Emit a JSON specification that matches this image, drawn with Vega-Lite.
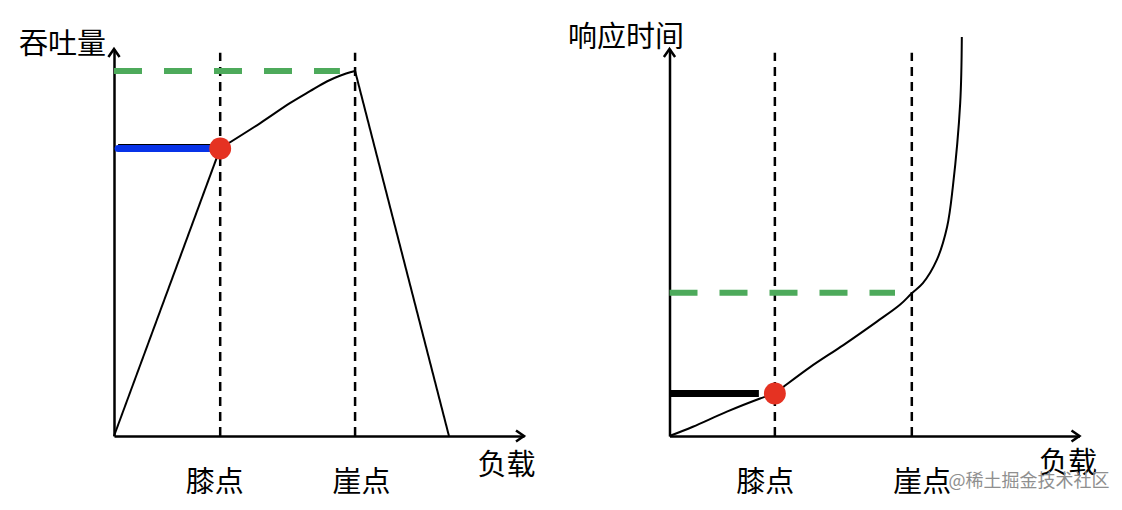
{
  "$schema": "https://vega.github.io/schema/vega-lite/v6.json",
  "background": "white",
  "padding": {"left": 18, "top": 23, "right": 8, "bottom": 8},
  "spacing": 145.5,
  "bounds": "flush",
  "config": {
    "view": {"stroke": null},
    "font": "Noto Sans CJK SC",
    "axis": {
      "grid": false,
      "ticks": false,
      "domainColor": "black",
      "domainWidth": 2.5,
      "labelFont": "Noto Sans CJK SC",
      "labelFontSize": 29,
      "labelColor": "black",
      "titleFont": "Noto Sans CJK SC",
      "titleFontSize": 29,
      "titleFontWeight": "normal",
      "titleColor": "black",
      "titleAngle": 0,
      "titleAlign": "center",
      "titleBaseline": "middle"
    },
    "axisX": {"labelBaseline": "middle", "labelAlign": "center", "labelPadding": 46},
    "axisY": {"labels": false}
  },
  "hconcat": [
    {
      "width": 410,
      "height": 387,
      "layer": [
        {
          "data": {"values": [
            {"point": "膝点", "load": 25.9, "bottom": 0, "top": 99},
            {"point": "崖点", "load": 58.8, "bottom": 0, "top": 99}
          ]},
          "mark": {"type": "rule", "color": "black", "strokeWidth": 2.5, "strokeDash": [9, 6]},
          "encoding": {
            "x": {
              "field": "load", "type": "quantitative",
              "scale": {"domain": [0, 100], "nice": false},
              "axis": {
                "values": [25.9, 58.8],
                "labelExpr": "datum.value < 40 ? '膝点' : '崖点'",
                "labelOffset": {"condition": {"test": "datum.value < 40", "value": -6}, "value": 6},
                "title": "负载", "titleX": 392, "titleY": 29
              }
            },
            "y": {
              "field": "bottom", "type": "quantitative",
              "scale": {"domain": [0, 100], "nice": false},
              "axis": {"title": "吞吐量", "titleX": -52, "titleY": -4.5}
            },
            "y2": {"field": "top"}
          }
        },
        {
          "data": {"values": [{"line": "最大吞吐量", "from": 0, "to": 55.1, "level": 94.3}]},
          "mark": {"type": "rule", "color": "#4daa5b", "strokeWidth": 6, "strokeDash": [28, 22]},
          "encoding": {
            "x": {"field": "from", "type": "quantitative"},
            "x2": {"field": "to"},
            "y": {"field": "level", "type": "quantitative"}
          }
        },
        {
          "data": {"values": [{"line": "膝点吞吐量", "from": 1, "to": 25, "level": 75.2}]},
          "mark": {"type": "rule", "color": "black", "strokeWidth": 2},
          "encoding": {
            "x": {"field": "from", "type": "quantitative"},
            "x2": {"field": "to"},
            "y": {"field": "level", "type": "quantitative"}
          }
        },
        {
          "data": {"values": [{"line": "膝点吞吐量", "from": 1, "to": 25.6, "level": 74.3}]},
          "mark": {"type": "rule", "color": "#0833e8", "strokeWidth": 7, "strokeCap": "round"},
          "encoding": {
            "x": {"field": "from", "type": "quantitative"},
            "x2": {"field": "to"},
            "y": {"field": "level", "type": "quantitative"}
          }
        },
        {
          "data": {"values": [
            {"segment": "rise", "load": 0, "throughput": 0},
            {"segment": "rise", "load": 25.9, "throughput": 74.3},
            {"segment": "bend", "load": 25.9, "throughput": 74.3},
            {"segment": "bend", "load": 35.6, "throughput": 80.8},
            {"segment": "bend", "load": 42.9, "throughput": 86.0},
            {"segment": "bend", "load": 47.8, "throughput": 89.1},
            {"segment": "bend", "load": 51.9, "throughput": 91.6},
            {"segment": "bend", "load": 55.1, "throughput": 93.1},
            {"segment": "bend", "load": 58.8, "throughput": 94.3},
            {"segment": "fall", "load": 58.8, "throughput": 94.3},
            {"segment": "fall", "load": 81.7, "throughput": 0}
          ]},
          "mark": {"type": "line", "color": "black", "strokeWidth": 2, "interpolate": "catmull-rom"},
          "encoding": {
            "x": {"field": "load", "type": "quantitative"},
            "y": {"field": "throughput", "type": "quantitative"},
            "detail": {"field": "segment", "type": "nominal"}
          }
        },
        {
          "data": {"values": [{"point": "膝点", "load": 25.9, "throughput": 74.3}]},
          "mark": {"type": "point", "filled": true, "size": 480, "color": "#e53222", "opacity": 1},
          "encoding": {
            "x": {"field": "load", "type": "quantitative"},
            "y": {"field": "throughput", "type": "quantitative"}
          }
        },
        {
          "data": {"values": [
            {"dir": "right", "load": 100, "level": 0},
            {"dir": "up", "load": 0, "level": 100}
          ]},
          "mark": {"type": "point", "filled": false, "size": 256, "strokeWidth": 2.5, "color": "black", "opacity": 1},
          "encoding": {
            "x": {"field": "load", "type": "quantitative"},
            "y": {"field": "level", "type": "quantitative"},
            "shape": {
              "field": "dir", "type": "nominal", "legend": null,
              "scale": {"domain": ["right", "up"], "range": ["M-1,-0.7L0,0L-1,0.7", "M-0.7,1L0,0L0.7,1"]}
            }
          }
        }
      ]
    },
    {
      "width": 410,
      "height": 387,
      "layer": [
        {
          "data": {"values": [
            {"point": "膝点", "load": 25.7, "bottom": 0, "top": 99},
            {"point": "崖点", "load": 59.1, "bottom": 0, "top": 99}
          ]},
          "mark": {"type": "rule", "color": "black", "strokeWidth": 2.5, "strokeDash": [9, 6]},
          "encoding": {
            "x": {
              "field": "load", "type": "quantitative",
              "scale": {"domain": [0, 100], "nice": false},
              "axis": {
                "values": [25.7, 59.1],
                "labelExpr": "datum.value < 40 ? '膝点' : '崖点'",
                "labelOffset": {"condition": {"test": "datum.value < 40", "value": -10}, "value": 10},
                "title": "负载", "titleX": 398, "titleY": 27.5
              }
            },
            "y": {
              "field": "bottom", "type": "quantitative",
              "scale": {"domain": [0, 100], "nice": false},
              "axis": {"title": "响应时间", "titleX": -44, "titleY": -11.5}
            },
            "y2": {"field": "top"}
          }
        },
        {
          "data": {"values": [{"line": "崖点响应时间", "from": 0, "to": 55, "level": 37.0}]},
          "mark": {"type": "rule", "color": "#4daa5b", "strokeWidth": 6, "strokeDash": [28, 22]},
          "encoding": {
            "x": {"field": "from", "type": "quantitative"},
            "x2": {"field": "to"},
            "y": {"field": "level", "type": "quantitative"}
          }
        },
        {
          "data": {"values": [{"line": "膝点响应时间", "from": 0, "to": 21.8, "level": 11.0}]},
          "mark": {"type": "rule", "color": "black", "strokeWidth": 7},
          "encoding": {
            "x": {"field": "from", "type": "quantitative"},
            "x2": {"field": "to"},
            "y": {"field": "level", "type": "quantitative"}
          }
        },
        {
          "data": {"values": [
            {"load": 0, "time": 0},
            {"load": 5.7, "time": 2.4},
            {"load": 14.0, "time": 6.3},
            {"load": 22.1, "time": 9.7},
            {"load": 25.7, "time": 11.0},
            {"load": 27.8, "time": 12.7},
            {"load": 34.3, "time": 17.8},
            {"load": 42.4, "time": 23.5},
            {"load": 50.5, "time": 29.5},
            {"load": 56.2, "time": 33.9},
            {"load": 59.1, "time": 36.9},
            {"load": 61.8, "time": 39.5},
            {"load": 65.2, "time": 45.5},
            {"load": 67.7, "time": 54.0},
            {"load": 69.1, "time": 64.3},
            {"load": 70.9, "time": 86.0},
            {"load": 71.3, "time": 103.1}
          ]},
          "mark": {"type": "line", "color": "black", "strokeWidth": 2, "interpolate": "catmull-rom"},
          "encoding": {
            "x": {"field": "load", "type": "quantitative"},
            "y": {"field": "time", "type": "quantitative"}
          }
        },
        {
          "data": {"values": [{"point": "膝点", "load": 25.7, "time": 11.0}]},
          "mark": {"type": "point", "filled": true, "size": 480, "color": "#e53222", "opacity": 1},
          "encoding": {
            "x": {"field": "load", "type": "quantitative"},
            "y": {"field": "time", "type": "quantitative"}
          }
        },
        {
          "data": {"values": [
            {"dir": "right", "load": 100, "level": 0},
            {"dir": "up", "load": 0, "level": 100}
          ]},
          "mark": {"type": "point", "filled": false, "size": 256, "strokeWidth": 2.5, "color": "black", "opacity": 1},
          "encoding": {
            "x": {"field": "load", "type": "quantitative"},
            "y": {"field": "level", "type": "quantitative"},
            "shape": {
              "field": "dir", "type": "nominal", "legend": null,
              "scale": {"domain": ["right", "up"], "range": ["M-1,-0.7L0,0L-1,0.7", "M-0.7,1L0,0L0.7,1"]}
            }
          }
        },
        {
          "data": {"values": [{"mark": "@稀土掘金技术社区", "load": 87.7, "level": -11.9}]},
          "mark": {"type": "text", "fontSize": 18, "color": "#8f8f8f", "font": "Noto Sans CJK SC"},
          "encoding": {
            "x": {"field": "load", "type": "quantitative"},
            "y": {"field": "level", "type": "quantitative"},
            "text": {"field": "mark"}
          }
        }
      ]
    }
  ]
}
